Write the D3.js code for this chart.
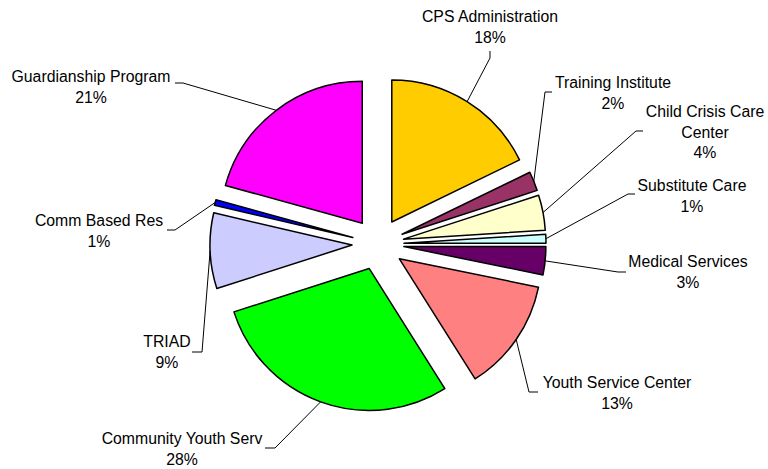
<!DOCTYPE html>
<html>
<head>
<meta charset="utf-8">
<script src="https://cdn.jsdelivr.net/npm/d3@7"></script>
<style>
  body { margin: 0; background: #fff; }
  svg { display: block; }
</style>
</head>
<body>
<div id="chart"></div>
<script>
let width = 768,
    height = 469;

// data, clockwise from 12 o'clock
let categories = ["CPS Administration", "Training Institute", "Child Crisis Care Center",
    "Substitute Care", "Medical Services", "Youth Service Center", "Community Youth Serv",
    "TRIAD", "Comm Based Res", "Guardianship Program"];
// slice sizes (in %)
let shares = [17.8, 2.2, 4.0, 1.0, 3.2, 12.85, 29.0, 8.6, 0.65, 20.7];
// percent labels as printed on the chart
let percentLabels = ["18%", "2%", "4%", "1%", "3%", "13%", "28%", "9%", "1%", "21%"];
let colors = ["#FFCC00", "#993366", "#FFFFCC", "#CCFFFF", "#660066",
    "#FF8080", "#00FF00", "#CCCCFF", "#0000FF", "#FF00FF"];

// label text lines (Excel wraps "Child Crisis Care Center")
let labelLines = [["CPS Administration"], ["Training Institute"], ["Child Crisis Care", "Center"],
    ["Substitute Care"], ["Medical Services"], ["Youth Service Center"], ["Community Youth Serv"],
    ["TRIAD"], ["Comm Based Res"], ["Guardianship Program"]];

// label layout: text centre x, first baseline y, leader elbow and end
let labelLayout = [
    {x: 490, y: 22,  elbow: [490, 58],  end: [490, 51]},
    {x: 613, y: 88,  elbow: [545, 92],  end: [552, 92]},
    {x: 705, y: 117, elbow: [636, 131], end: [643, 131]},
    {x: 692, y: 191, elbow: [628, 194], end: [635, 194]},
    {x: 688, y: 267, elbow: [618, 272], end: [626, 272]},
    {x: 617, y: 388, elbow: [529, 392], end: [538, 392]},
    {x: 182, y: 444, elbow: [275, 448], end: [265, 448]},
    {x: 167, y: 347, elbow: [202, 352], end: [192, 352]},
    {x: 99,  y: 226, elbow: [175, 230], end: [167, 230]},
    {x: 91,  y: 82,  elbow: [183, 83],  end: [175, 83]}
];

let cx = 378, cy = 244;
let radius = 142;
let explode = 26;
let lineGap = 20.5;

let svg = d3.select("#chart")
    .append("svg")
    .attr("width", width)
    .attr("height", height);

let g = svg.append("g")
    .attr("transform", "translate(" + cx + "," + cy + ")");

let data = categories.map(function(c, i) {
    return {name: c, value: shares[i], pct: percentLabels[i], color: colors[i],
        lines: labelLines[i], layout: labelLayout[i]};
});

let pie = d3.pie()
    .sort(null)
    .value(function(d) { return d.value; });
let data_ready = pie(data);

let arcGenerator = d3.arc()
    .innerRadius(0)
    .outerRadius(radius);

function offset(d, dist) {
    let mid = (d.startAngle + d.endAngle) / 2;
    return [dist * Math.sin(mid), -dist * Math.cos(mid)];
}

// slices
g.selectAll("path.slice")
    .data(data_ready)
    .enter()
    .append("path")
    .attr("class", "slice")
    .attr("d", arcGenerator)
    .attr("transform", function(d) { return "translate(" + offset(d, explode) + ")"; })
    .attr("fill", function(d) { return d.data.color; })
    .attr("stroke", "#000")
    .attr("stroke-width", 1.5)
    .attr("stroke-linejoin", "round");

// leader lines, from the middle of each slice's rim
svg.selectAll("polyline.leader")
    .data(data_ready)
    .enter()
    .append("polyline")
    .attr("class", "leader")
    .attr("points", function(d) {
        let p = offset(d, explode + radius);
        let start = [cx + p[0], cy + p[1]];
        return [start, d.data.layout.elbow, d.data.layout.end].map(function(q) { return q.join(","); }).join(" ");
    })
    .attr("fill", "none")
    .attr("stroke", "#000")
    .attr("stroke-width", 1);

// labels
let labels = svg.selectAll("text.label")
    .data(data_ready)
    .enter()
    .append("text")
    .attr("class", "label")
    .attr("text-anchor", "middle")
    .style("font-family", "'Liberation Sans', Arial, sans-serif")
    .style("font-size", "15.8px")
    .attr("fill", "#000");

labels.each(function(d) {
    let t = d3.select(this);
    let lines = d.data.lines.concat([d.data.pct]);
    lines.forEach(function(line, i) {
        t.append("tspan")
            .attr("x", d.data.layout.x)
            .attr("y", d.data.layout.y + i * lineGap)
            .text(line);
    });
});
</script>
</body>
</html>
